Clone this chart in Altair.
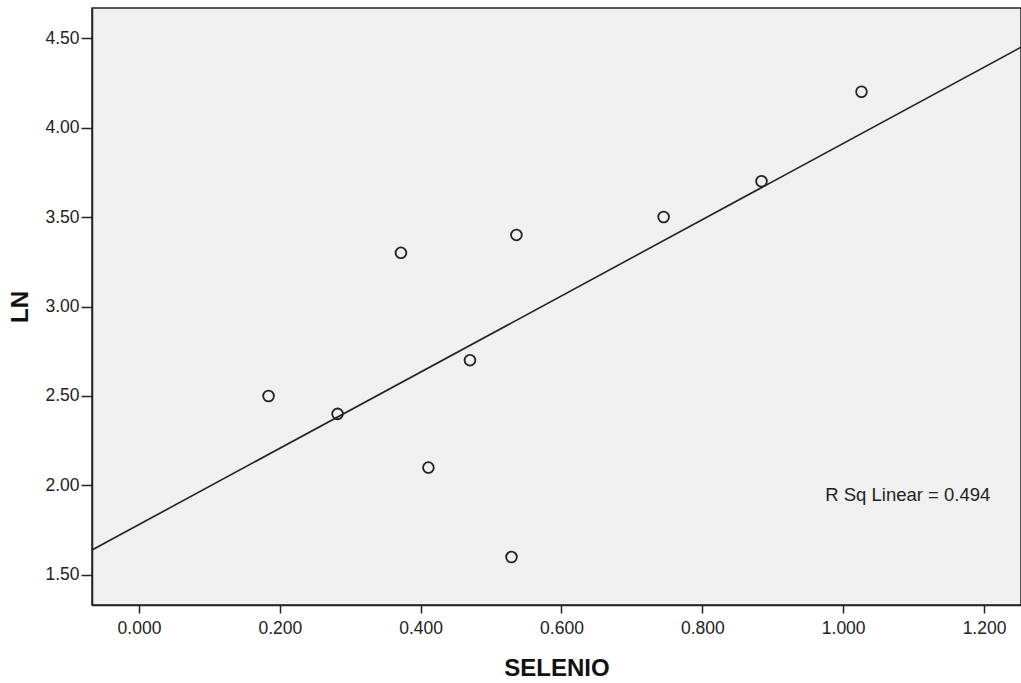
import altair as alt
import pandas as pd

selenio = [0.184, 0.282, 0.372, 0.411, 0.470, 0.536, 0.529, 0.745, 0.884, 1.026]
ln = [2.5, 2.4, 3.3, 2.1, 2.7, 3.4, 1.6, 3.5, 3.7, 4.2]
x_ticks = [0.0, 0.2, 0.4, 0.6, 0.8, 1.0, 1.2]
y_ticks = [1.5, 2.0, 2.5, 3.0, 3.5, 4.0, 4.5]
x_domain = [-0.0667, 1.2525]
y_domain = [1.332, 4.668]
annot_text = ["R Sq Linear = 0.494"]
annot_x = [0.9745]
annot_y = [1.947]

df = pd.DataFrame({"SELENIO": selenio, "LN": ln})
ann = pd.DataFrame({"x": annot_x, "y": annot_y, "t": annot_text})

FONT = "Liberation Sans"

xs = alt.Scale(domain=x_domain, nice=False, zero=False)
ys = alt.Scale(domain=y_domain, nice=False, zero=False)

xax = alt.Axis(values=x_ticks, format=".3f", title="SELENIO", grid=False,
               tickSize=8, tickWidth=1.5, domainWidth=1.5, domainColor="#222",
               tickColor="#222", labelFontSize=17.5, labelFont=FONT, labelColor="#222",
               labelPadding=6, titleFont=FONT, titleFontSize=24, titleFontWeight="bold",
               titleColor="#111", titlePadding=20)
yax = alt.Axis(values=y_ticks, format=".2f", title="LN", grid=False,
               tickSize=11, tickWidth=1.5, domainWidth=1.5, domainColor="#222",
               tickColor="#222", labelFontSize=17.5, labelFont=FONT, labelColor="#222",
               labelPadding=2, titleFont=FONT, titleFontSize=24, titleFontWeight="bold",
               titleColor="#111", titlePadding=12)

points = alt.Chart(df).mark_point(shape="circle", filled=False, size=115,
                                  stroke="#222", strokeWidth=1.8, opacity=1).encode(
    x=alt.X("SELENIO:Q", scale=xs, axis=xax),
    y=alt.Y("LN:Q", scale=ys, axis=yax),
)

fit = alt.Chart(df).transform_regression(
    "SELENIO", "LN", extent=x_domain
).mark_line(color="#222", strokeWidth=1.6, clip=True).encode(
    x=alt.X("SELENIO:Q", scale=xs),
    y=alt.Y("LN:Q", scale=ys),
)

label = alt.Chart(ann).mark_text(align="left", baseline="middle", font=FONT,
                                 fontSize=18.5, color="#222").encode(
    x=alt.X("x:Q", scale=xs),
    y=alt.Y("y:Q", scale=ys),
    text="t:N",
)

chart = alt.layer(fit, points, label).properties(
    width=929, height=597,
    autosize="none",
    padding={"left": 92, "top": 8, "right": 0, "bottom": 78},
    background="white",
).configure_view(fill="#F0F0F0", stroke="#222", strokeWidth=1.5)

chart.save("out.html", embed_options={"renderer": "svg", "actions": False})
